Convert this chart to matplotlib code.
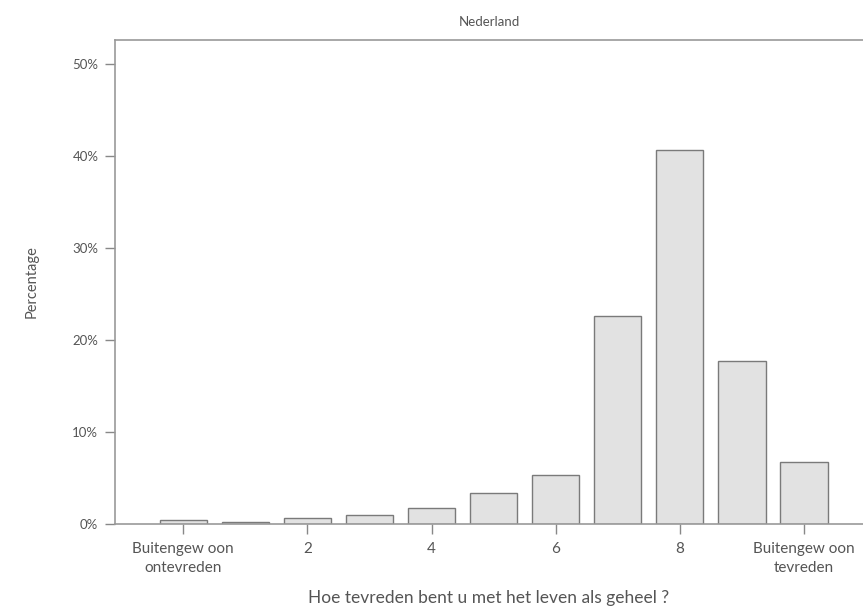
import matplotlib
matplotlib.use("Agg")
import matplotlib.pyplot as plt

# satisfaction score 0..10 and share of respondents (%)
scores = [0, 1, 2, 3, 4, 5, 6, 7, 8, 9, 10]
percent = [0.4, 0.2, 0.7, 1.0, 1.7, 3.4, 5.3, 22.6, 40.6, 17.7, 6.7]

tick_pos = [0, 2, 4, 6, 8, 10]
tick_labels = ["Buitengew oon\nontevreden", "2", "4", "6", "8", "Buitengew oon\ntevreden"]
y_ticks = [0, 10, 20, 30, 40, 50]
y_labels = ["0%", "10%", "20%", "30%", "40%", "50%"]

plt.rcParams['font.family'] = ['Lato', 'DejaVu Sans']
txt = "#555555"

fig = plt.figure(figsize=(8.63, 6.14), dpi=100)
ax = fig.add_axes([115/863, 90/614, 1 - 115/863, 484/614])

ax.bar(scores, percent, width=0.76, color="#e2e2e2", edgecolor="#7a7a7a", linewidth=1)

ax.set_xlim(-1.1, 10.95)
ax.set_ylim(0, 52.6)
ax.set_xticks(tick_pos)
ax.set_xticklabels(tick_labels, fontsize=11, color=txt, linespacing=1.45)
ax.set_yticks(y_ticks)
ax.set_yticklabels(y_labels, fontsize=9.5, color=txt)
ax.tick_params(axis="both", direction="out", length=7, color="#888888", width=1)
ax.tick_params(axis="x", pad=6)
ax.tick_params(axis="y", pad=5)

for s in ["left", "top", "bottom"]:
    ax.spines[s].set_color("#999999")
    ax.spines[s].set_linewidth(1.2)
ax.spines["right"].set_visible(False)

ax.set_xlabel("Hoe tevreden bent u met het leven als geheel ?", fontsize=12.5, color=txt, labelpad=11)
ax.set_ylabel("Percentage", fontsize=10.5, color=txt, labelpad=24)
ax.set_title("Nederland", fontsize=9.5, color=txt, pad=10)

fig.savefig("out.png", dpi=100)
